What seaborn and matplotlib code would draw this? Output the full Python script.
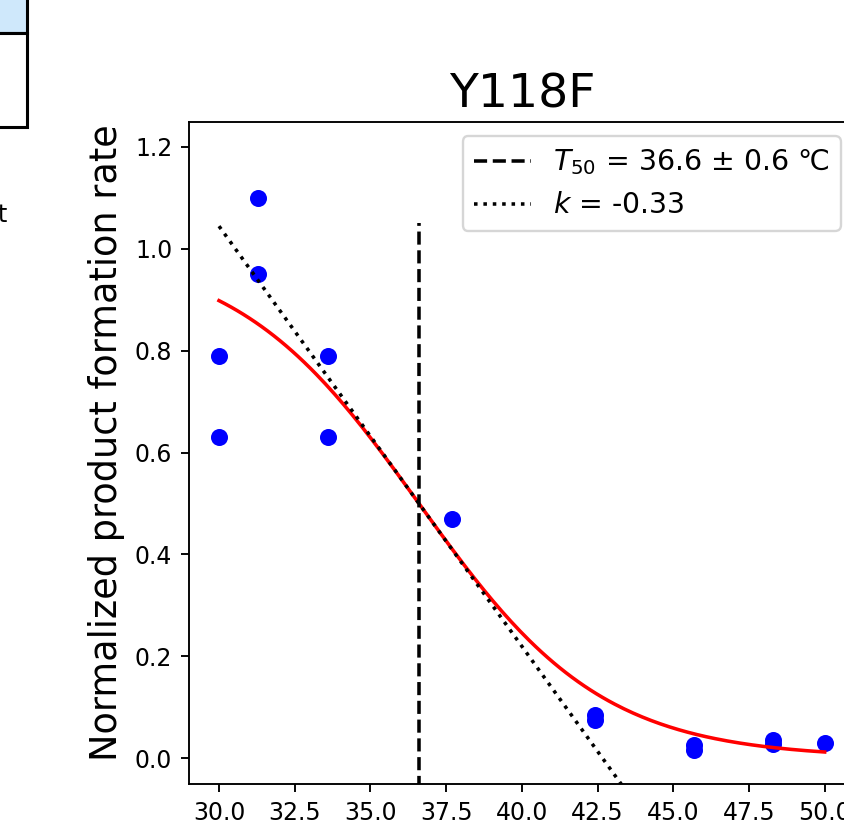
import numpy as np
import pandas as pd
import seaborn as sns
import matplotlib.pyplot as plt
import matplotlib.patches as mpatches

# measured points (temperature gradient, normalized rate)
temps = [30.0, 30.0, 31.3, 31.3, 33.6, 33.6, 37.7, 42.4, 42.4, 45.7, 45.7, 48.3, 48.3, 50.0]
rates = [0.79, 0.63, 1.10, 0.95, 0.79, 0.63, 0.47, 0.085, 0.075, 0.025, 0.015, 0.035, 0.028, 0.03]

# fit parameters shown in the legend
T50 = 36.6
T50_err = 0.6
k = -0.33

title = 'Y118F'
ylabel = 'Normalized product formation rate'

def sigmoid(x, t50, k):
    return 1 / (1 + np.exp(-k * (x - t50)))

def main():
    dpi = 170
    fig = plt.figure(figsize=(844 / dpi, 830 / dpi), dpi=dpi)
    ax = fig.add_axes([0.2236, 0.0554, 0.7894, 0.7976])

    df = pd.DataFrame({'temp': temps, 'rate': rates})
    sns.scatterplot(data=df, x='temp', y='rate', color='blue', s=52, linewidth=0, ax=ax, zorder=2)

    xs = np.linspace(min(temps), max(temps), 200)
    fit = pd.DataFrame({'temp': xs, 'rate': sigmoid(xs, T50, k)})
    sns.lineplot(data=fit, x='temp', y='rate', color='red', ax=ax, zorder=3)

    tang = pd.DataFrame({'temp': xs, 'rate': 0.5 + k / 4 * (xs - T50)})
    sns.lineplot(data=tang, x='temp', y='rate', color='black', linestyle=':', ax=ax, zorder=4,
                 label=r'$k$ = {:.2f}'.format(k))

    ax.vlines(T50, -0.06, 1.05, color='black', linestyle='--', zorder=4,
              label=r'$T_{{50}}$ = {} $\pm$ {} ℃'.format(T50, T50_err))

    ax.set_xlim(29.0, 51.0)
    ax.set_ylim(-0.051, 1.249)
    ax.set_xticks(np.arange(30, 50.1, 2.5))
    ax.set_yticks(np.arange(0, 1.21, 0.2))
    ax.set_title(title, fontsize=20)
    ax.set_xlabel('')
    ax.set_ylabel(ylabel, fontsize=15.5)
    ax.yaxis.label.set_y(0.515)

    handles, labels = ax.get_legend_handles_labels()
    ax.legend(handles[::-1], labels[::-1], loc='upper right', fontsize=12)

    # bits of the neighbouring panel that show at the left edge
    fig.patches.append(mpatches.Rectangle((-0.05, 1 - 33 / 830), 0.082, 0.1, transform=fig.transFigure,
                                          facecolor='#cfe8fb', edgecolor='black', lw=1.3))
    fig.patches.append(mpatches.Rectangle((-0.05, 1 - 127 / 830), 0.082, (127 - 33) / 830,
                                          transform=fig.transFigure, facecolor='white',
                                          edgecolor='black', lw=1.3))
    fig.text(-0.003, 1 - 222 / 830, 't', fontsize=10, ha='left', va='baseline')

    plt.savefig('out.png', dpi=dpi)

main()
